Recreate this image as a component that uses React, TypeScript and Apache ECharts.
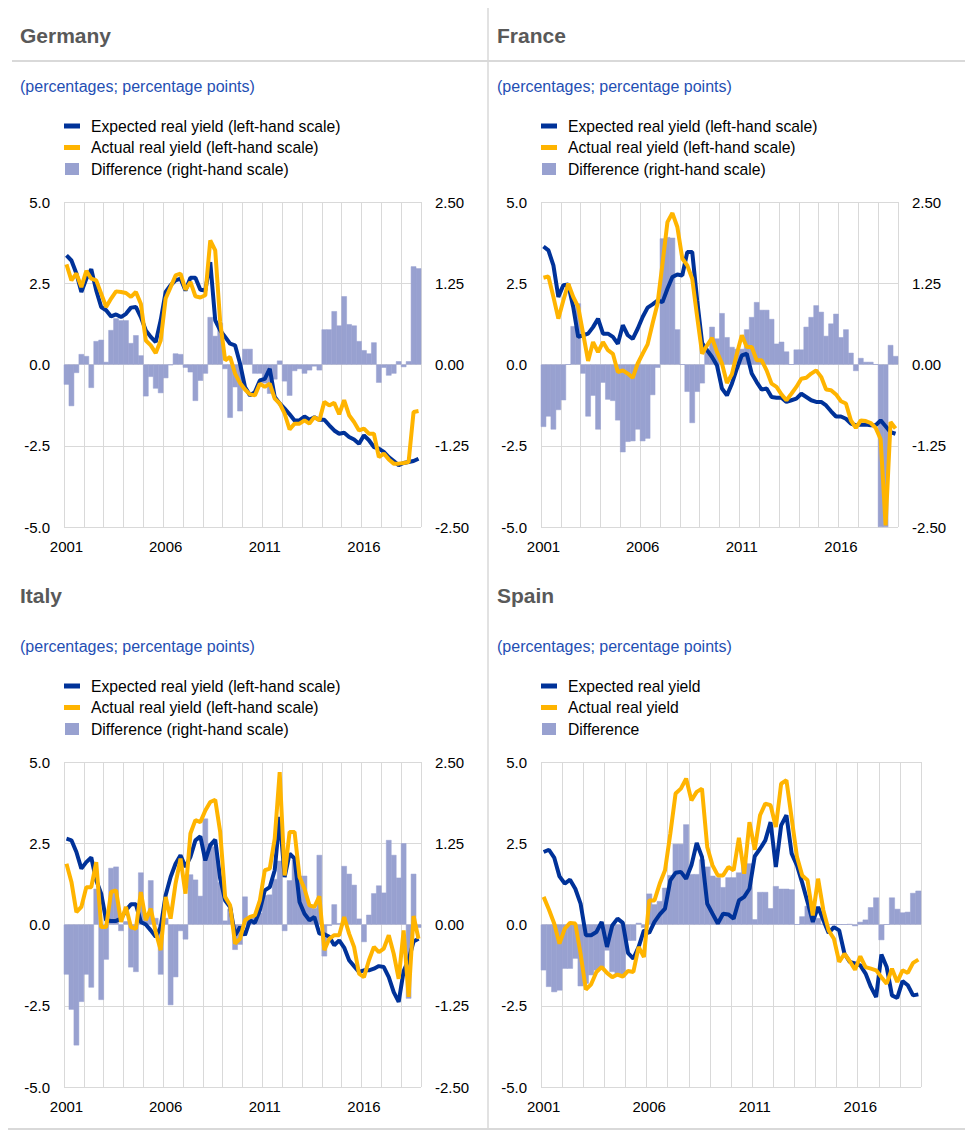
import React, { useEffect, useRef } from "react";
import * as echarts from "echarts";

// ---------- categories (quarters 2001 Q1 .. 2018 Q4) ----------
const years: number[] = [2001, 2002, 2003, 2004, 2005, 2006, 2007, 2008, 2009, 2010, 2011, 2012, 2013, 2014, 2015, 2016, 2017, 2018];
const quarters: string[] = years.flatMap((y) => [`${y} Q1`, `${y} Q2`, `${y} Q3`, `${y} Q4`]);

// ---------- axis ticks ----------
const leftTicks = { min: -5, max: 5, step: 2.5 };
const rightTicks = { min: -2.5, max: 2.5, step: 1.25 };

// ---------- Germany ----------
const deExpected = [
  3.36, 3.2, 2.8, 2.23, 2.64, 2.93, 2.28, 1.77, 1.67, 1.48, 1.54, 1.46, 1.56, 1.75, 1.77, 1.46,
  1.05, 0.85, 0.69, 1.36, 2.23, 2.44, 2.59, 2.64, 2.28, 2.67, 2.67, 2.3, 2.28, 3.15, 1.36, 1.05,
  0.85, 0.64, 0.59, 0.03, -0.69, -0.95, -0.85, -0.49, -0.44, -0.13, -1.0, -1.2, -1.36, -1.53, -1.72, -1.72,
  -1.6, -1.7, -1.62, -1.7, -1.7, -1.87, -2.03, -2.13, -2.1, -2.23, -2.31, -2.44, -2.18, -2.33, -2.54, -2.59,
  -2.69, -2.85, -2.97, -3.1, -3.03, -3.0, -2.97, -2.9,
];
const deActual = [
  3.08, 2.59, 2.8, 2.38, 2.88, 2.64, 2.59, 2.18, 1.77, 2.03, 2.25, 2.23, 2.2, 2.08, 2.23, 1.87,
  0.74, 0.59, 0.35, 0.74, 2.03, 2.38, 2.74, 2.8, 2.3, 2.54, 2.1, 2.06, 2.13, 3.82, 3.51, 1.31,
  0.13, 0.23, -0.28, -0.57, -0.77, -0.92, -0.95, -0.59, -0.69, -0.59, -1.05, -1.2, -1.51, -2.0, -1.82, -1.82,
  -1.72, -1.82, -1.62, -1.72, -1.15, -1.26, -1.18, -1.53, -1.1, -1.56, -1.77, -2.03, -1.97, -2.13, -2.13, -2.85,
  -2.74, -2.92, -3.05, -3.05, -3.03, -3.0, -1.46, -1.43,
];
const deDiff = [
  -0.31, -0.64, -0.13, 0.16, 0.13, -0.36, 0.36, 0.38, 0.04, 0.53, 0.71, 0.68, 0.68, 0.33, 0.45, 0.14,
  -0.49, -0.19, -0.37, -0.44, -0.21, -0.01, 0.17, 0.16, -0.05, -0.12, -0.56, -0.25, -0.14, 0.73, 0.44, 0.64,
  -0.07, -0.82, -0.35, -0.72, 0.24, 0.24, -0.14, -0.14, -0.29, -0.45, -0.23, 0.06, -0.26, -0.48, -0.1, -0.07,
  -0.14, -0.09, -0.03, -0.09, 0.54, 0.54, 0.82, 0.6, 1.05, 0.62, 0.6, 0.36, 0.22, 0.17, 0.34, -0.28,
  -0.05, -0.17, -0.14, 0.05, -0.04, 0.05, 1.51, 1.48,
];

// ---------- France ----------
const frExpected = [
  3.63, 3.51, 3.05, 2.08, 2.44, 2.46, 1.77, 0.85, 0.9, 0.95, 1.15, 1.41, 0.95, 0.95, 0.85, 0.64,
  1.21, 0.9, 0.79, 1.1, 1.46, 1.75, 1.85, 1.97, 1.92, 2.33, 2.69, 2.77, 2.74, 3.46, 3.46, 1.97,
  0.66, 0.44, 0.23, -0.03, -0.74, -0.95, -0.59, -0.13, 0.28, 0.33, -0.28, -0.54, -0.77, -0.74, -1.0, -1.02,
  -1.02, -1.15, -1.1, -1.05, -0.9, -1.0, -1.1, -1.15, -1.15, -1.26, -1.44, -1.6, -1.6, -1.67, -1.82, -1.87,
  -1.85, -1.85, -1.87, -1.87, -1.72, -1.9, -2.08, -2.13,
];
const frActual = [
  2.67, 2.71, 2.08, 1.41, 1.97, 2.49, 2.08, 1.77, 0.95, 0.11, 0.69, 0.38, 0.69, 0.44, 0.33, -0.23,
  -0.18, -0.28, -0.41, 0.03, 0.33, 0.62, 1.26, 1.87, 3.1, 4.38, 4.66, 4.23, 3.26, 3.05, 2.64, 1.46,
  0.33, 0.59, 0.82, 0.38, 0.03, -0.57, -0.3, 0.33, 0.9, 0.54, 0.54, 0.13, 0.13, -0.18, -0.59, -0.69,
  -0.92, -1.1, -0.9, -0.69, -0.44, -0.41, -0.28, -0.18, -0.38, -0.77, -0.79, -0.92, -1.13, -1.2, -1.72, -1.95,
  -1.72, -1.74, -1.8, -1.95, -2.3, -4.95, -1.77, -1.97,
];
const frDiff = [
  -0.96, -0.8, -1.0, -0.7, -0.55, 0.0, 0.59, 0.94, -0.14, -0.8, -0.48, -1.0, -0.28, -0.54, -0.56, -0.86,
  -1.35, -1.19, -1.18, -1.0, -1.18, -1.14, -0.47, -0.05, 1.94, 1.96, 1.95, 0.54, 0.0, -0.42, -0.9, -0.42,
  -0.29, 0.2, 0.58, 0.4, 0.79, 0.42, 0.27, 0.24, 0.24, 0.54, 0.73, 0.96, 0.84, 0.84, 0.7, 0.32,
  0.35, 0.2, 0.0, 0.23, 0.23, 0.58, 0.73, 0.91, 0.81, 0.44, 0.63, 0.78, 0.42, 0.54, 0.18, -0.1,
  0.1, 0.04, 0.04, 0.0, -2.5, -2.5, 0.3, 0.13,
];

// ---------- Italy ----------
const itExpected = [
  2.64, 2.59, 2.23, 1.72, 1.92, 2.06, 1.36, 0.95, 0.13, 0.11, 0.11, 0.18, 0.44, 0.62, 0.62, 0.08,
  0.0, -0.18, -0.38, -0.08, 0.9, 1.46, 1.87, 2.13, 1.77, 2.08, 2.59, 2.71, 1.97, 2.44, 2.61, 1.41,
  0.74, 0.54, -0.33, -0.08, -0.33, 0.13, 0.05, 0.44, 1.05, 1.15, 1.67, 3.31, 1.46, 2.18, 2.03, 0.69,
  0.33, 0.13, 0.23, -0.28, -0.3, -0.38, -0.64, -0.49, -0.71, -1.1, -1.28, -1.46, -1.41, -1.41, -1.36, -1.28,
  -1.31, -1.62, -2.08, -2.38, -1.43, -1.09, -0.52, -0.44,
];
const itActual = [
  1.87, 1.31, 0.38, 0.54, 1.15, 1.15, 1.92, -0.08, -0.08, 1.0, 1.05, 0.08, 0.54, -0.08, -0.13, 1.0,
  0.13, 0.49, -0.23, -0.79, 0.85, 0.18, 1.26, 2.03, 0.95, 2.8, 3.21, 3.15, 3.51, 3.77, 3.84, 2.85,
  0.85, 0.59, -0.59, -0.44, 0.13, 0.23, 0.28, 0.74, 1.67, 1.72, 2.64, 4.69, 1.51, 2.85, 2.85, 1.46,
  1.1, 0.59, 0.54, 0.87, -0.79, -0.44, -0.33, -0.33, 0.23, -0.28, -0.69, -1.51, -1.62, -1.1, -0.69, -0.85,
  -0.74, -0.33, -0.9, -1.67, -0.18, -2.23, 0.26, -0.44,
];
const itDiff = [
  -0.77, -1.31, -1.86, -1.19, -0.77, -0.97, 0.55, -1.16, -0.54, 0.87, 0.89, -0.1, 0.05, -0.66, -0.73, 0.8,
  0.11, 0.68, 0.1, -0.77, 0.1, -1.24, -0.81, -0.1, -0.23, 0.77, 0.69, 0.44, 1.63, 1.25, 1.2, 0.65,
  0.06, 0.24, -0.39, -0.31, 0.43, 0.1, 0.15, 0.18, 0.45, 0.46, 0.7, 0.98, -0.1, 0.68, 1.0, 0.75,
  0.75, 0.3, 0.25, 1.07, -0.49, -0.02, 0.31, 0.02, 0.9, 0.78, 0.61, 0.09, -0.27, 0.15, 0.48, 0.6,
  0.49, 1.3, 1.07, 0.72, 1.25, -1.14, 0.78, -0.05,
];

// ---------- Spain ----------
const esExpected = [
  2.23, 2.3, 2.06, 1.48, 1.26, 1.38, 1.1, 0.64, -0.33, -0.33, -0.23, 0.08, -0.69, -0.03, 0.18, 0.05,
  -0.88, -1.05, -0.69, -0.18, -0.26, 0.08, 0.31, 0.49, 1.36, 1.59, 1.62, 1.41, 1.82, 2.51, 2.08, 0.64,
  0.33, 0.03, 0.33, 0.31, 0.18, 0.74, 0.85, 1.1, 2.1, 2.33, 2.59, 3.15, 1.77, 3.05, 3.36, 2.18,
  1.82, 1.28, 0.69, 0.08, 0.54, 0.13, -0.26, -0.08, -0.18, -0.9, -1.15, -1.2, -1.26, -1.51, -1.92, -2.23,
  -0.92, -1.31, -2.18, -2.26, -1.74, -1.87, -2.18, -2.15,
];
const esActual = [
  0.85, 0.46, 0.03, -0.59, -0.13, 0.05, 0.03, -0.9, -2.0, -1.84, -1.46, -1.31, -1.49, -1.62, -1.54, -1.6,
  -1.43, -1.46, -0.69, -1.0, 0.74, 0.74, 1.26, 1.67, 2.79, 4.03, 4.18, 4.49, 3.82, 4.08, 4.18, 2.38,
  1.82, 1.51, 1.51, 1.77, 1.67, 2.67, 1.56, 3.15, 2.3, 3.36, 3.72, 3.67, 3.0, 4.33, 4.44, 3.26,
  2.08, 1.51, 1.36, 0.28, 1.41, 0.44, -0.18, -0.44, -1.15, -0.9, -1.13, -1.39, -0.98, -1.31, -1.36, -1.41,
  -1.62, -1.82, -1.36, -1.77, -1.41, -1.49, -1.18, -1.08,
];
const esDiff = [
  -1.41, -1.92, -2.08, -2.03, -1.36, -1.36, -1.05, -1.9, -1.82, -1.56, -1.41, -1.39, -0.8, -1.46, -1.6, -1.6,
  -0.5, -0.5, 0.05, -0.1, 0.95, 0.62, 0.72, 1.13, 1.52, 2.48, 2.48, 3.08, 1.55, 1.55, 2.0, 1.78,
  1.5, 1.45, 1.15, 1.45, 1.45, 1.6, 1.95, 1.88, 0.16, 1.0, 1.0, 0.5, 1.18, 1.1, 1.1, 1.08,
  0.0, 0.25, 0.57, 0.5, 0.2, 0.02, 0.0, 0.0, 0.0, 0.0, 0.01, -0.05, 0.08, 0.15, 0.53, 0.83,
  -0.48, 0.0, 0.83, 0.48, 0.37, 0.39, 0.97, 1.04,
];

// ---------- labels ----------
const subtitleText = "(percentages; percentage points)";
const namesDual = [
  "Expected real yield (left-hand scale)",
  "Actual real yield (left-hand scale)",
  "Difference (right-hand scale)",
];
const namesSpain = ["Expected real yield", "Actual real yield", "Difference"];

// ---------- styling ----------
const FONT = '"Liberation Sans", Arial, Helvetica, sans-serif';
const BLUE = "#003299";
const YELLOW = "#ffb400";
const LILAC = "#98a1d0";
const GRIDC = "#d9d9d9";
const TITLEC = "#595959";
const SUBC = "#1f4fb4";

type Panel = {
  title: string;
  names: string[];
  expected: number[];
  actual: number[];
  diff: number[];
  right: boolean;
  x: number;
  gridLeft: number;
  gridTop: number;
  gridWidth: number;
  headTop: number;
};

const panels: Panel[] = [
  { title: "Germany", names: namesDual, expected: deExpected, actual: deActual, diff: deDiff, right: true, x: 20, gridLeft: 64, gridTop: 202, gridWidth: 357, headTop: 0 },
  { title: "France", names: namesDual, expected: frExpected, actual: frActual, diff: frDiff, right: true, x: 497, gridLeft: 541, gridTop: 202, gridWidth: 357, headTop: 0 },
  { title: "Italy", names: namesDual, expected: itExpected, actual: itActual, diff: itDiff, right: true, x: 20, gridLeft: 64, gridTop: 762, gridWidth: 357, headTop: 560 },
  { title: "Spain", names: namesSpain, expected: esExpected, actual: esActual, diff: esDiff, right: false, x: 497, gridLeft: 541, gridTop: 762, gridWidth: 380, headTop: 560 },
];

function buildOption() {
  const option: any = {
    animation: false,
    backgroundColor: "#ffffff",
    textStyle: { fontFamily: FONT },
    title: [],
    legend: [],
    grid: [],
    xAxis: [],
    yAxis: [],
    series: [],
    graphic: [
      { type: "line", silent: true, z: 0, shape: { x1: 12, y1: 61, x2: 965, y2: 61 }, style: { stroke: GRIDC, lineWidth: 2 } },
      { type: "line", silent: true, z: 0, shape: { x1: 488, y1: 8, x2: 488, y2: 1128 }, style: { stroke: GRIDC, lineWidth: 1.5 } },
      { type: "line", silent: true, z: 0, shape: { x1: 8, y1: 1129, x2: 965, y2: 1129 }, style: { stroke: GRIDC, lineWidth: 2 } },
    ],
  };

  panels.forEach((p, gi) => {
    option.title.push({
      text: p.title,
      left: p.x,
      top: p.headTop + 25,
      padding: 0,
      textStyle: { fontFamily: FONT, fontSize: 21, fontWeight: "bold", color: TITLEC },
    });
    option.title.push({
      text: subtitleText,
      left: p.x,
      top: p.headTop + 78,
      padding: 0,
      textStyle: { fontFamily: FONT, fontSize: 16, fontWeight: "normal", color: SUBC },
    });

    option.legend.push({
      orient: "vertical",
      left: p.gridLeft,
      top: p.headTop + 118,
      padding: 0,
      itemWidth: 16,
      itemHeight: 12,
      itemGap: 5.5,
      selectedMode: false,
      itemStyle: { borderWidth: 0 },
      textStyle: { fontFamily: FONT, fontSize: 15.7, color: "#000", lineHeight: 14, padding: [0, 0, 0, 6] },
      data: [
        { name: p.names[0], icon: "path://M0,0H16V5H0Z" },
        { name: p.names[1], icon: "path://M0,0H16V5H0Z" },
        { name: p.names[2], icon: "path://M0,0H14V12H0Z" },
      ],
    });

    option.grid.push({ left: p.gridLeft, top: p.gridTop, width: p.gridWidth, height: 325, z: 0 });

    option.xAxis.push({
      type: "category",
      gridIndex: gi,
      z: 0,
      data: quarters,
      boundaryGap: true,
      axisLine: { show: false },
      axisTick: { show: false },
      axisLabel: {
        interval: 19,
        margin: 12,
        fontFamily: FONT,
        fontSize: 15,
        color: "#000",
        formatter: (v: string) => v.slice(0, 4),
      },
      splitLine: { show: true, interval: 3, lineStyle: { color: GRIDC, width: 1 } },
    });

    const leftIdx = option.yAxis.length;
    option.yAxis.push({
      type: "value",
      gridIndex: gi,
      z: 0,
      position: "left",
      min: leftTicks.min,
      max: leftTicks.max,
      interval: leftTicks.step,
      axisLine: { show: false },
      axisTick: { show: false },
      axisLabel: { margin: 14, fontFamily: FONT, fontSize: 15, color: "#000", formatter: (v: number) => v.toFixed(1) },
      splitLine: { show: true, lineStyle: { color: GRIDC, width: 1 } },
    });
    let barIdx = leftIdx;
    if (p.right) {
      barIdx = option.yAxis.length;
      option.yAxis.push({
        type: "value",
        gridIndex: gi,
        z: 0,
        position: "right",
        min: rightTicks.min,
        max: rightTicks.max,
        interval: rightTicks.step,
        axisLine: { show: false },
        axisTick: { show: false },
        axisLabel: { margin: 14, fontFamily: FONT, fontSize: 15, color: "#000", formatter: (v: number) => v.toFixed(2) },
        splitLine: { show: false },
      });
    }

    option.series.push({
      type: "bar",
      name: p.names[2],
      xAxisIndex: gi,
      yAxisIndex: barIdx,
      data: p.diff,
      barWidth: "110%",
      itemStyle: { color: LILAC, borderColor: LILAC, borderWidth: 0.5 },
      z: 5,
    });
    option.series.push({
      type: "line",
      name: p.names[0],
      xAxisIndex: gi,
      yAxisIndex: leftIdx,
      data: p.expected,
      symbol: "none",
      showSymbol: false,
      lineStyle: { color: BLUE, width: 4 },
      itemStyle: { color: BLUE },
      z: 6,
    });
    option.series.push({
      type: "line",
      name: p.names[1],
      xAxisIndex: gi,
      yAxisIndex: leftIdx,
      data: p.actual,
      symbol: "none",
      showSymbol: false,
      lineStyle: { color: YELLOW, width: 4 },
      itemStyle: { color: YELLOW },
      z: 7,
    });
  });

  return option;
}

export default function App() {
  const ref = useRef<HTMLDivElement>(null);
  useEffect(() => {
    if (!ref.current) return;
    const chart = echarts.init(ref.current, undefined, { renderer: "svg" });
    chart.setOption(buildOption());
    return () => chart.dispose();
  }, []);
  return (
    <div
      ref={ref}
      style={{ position: "absolute", left: 0, top: 0, width: 965, height: 1136, background: "#fff" }}
    />
  );
}
